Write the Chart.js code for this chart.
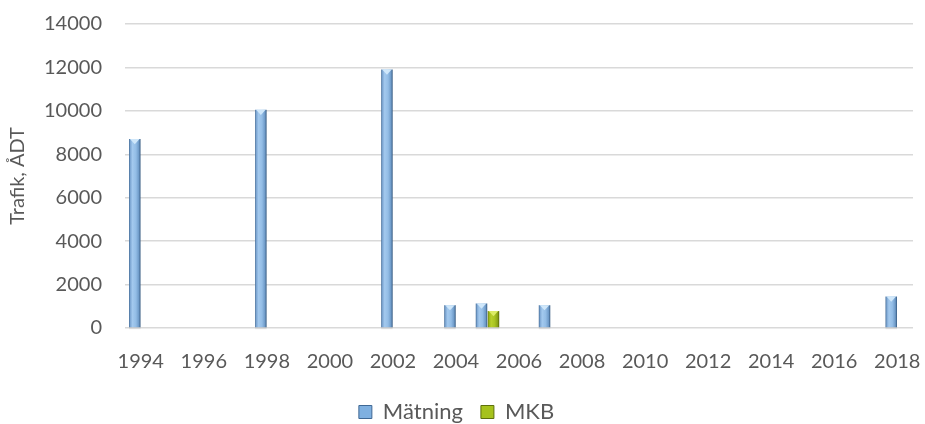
<!DOCTYPE html>
<html>
<head>
<meta charset="utf-8">
<script src="https://cdn.jsdelivr.net/npm/chart.js@4"></script>
<style>
  html, body { margin: 0; padding: 0; background: #ffffff; }
  #wrap { width: 925px; height: 424px; }
</style>
</head>
<body>
<div id="wrap"><canvas id="chart" width="925" height="424"></canvas></div>
<script>
// Årtal på x-axeln
const years = ['1994','1995','1996','1997','1998','1999','2000','2001','2002','2003',
               '2004','2005','2006','2007','2008','2009','2010','2011','2012','2013',
               '2014','2015','2016','2017','2018'];
// Årtal som visas som etiketter
const tickYears = ['1994','1996','1998','2000','2002','2004','2006','2008','2010',
                   '2012','2014','2016','2018'];
// Uppmätt trafik (ÅDT)
const matning = [8700, null, null, null, 10050, null, null, null, 11900, null,
                 1050, 1130, null, 1050, null, null, null, null, null, null,
                 null, null, null, null, 1450];
// Trafik enligt MKB (ÅDT)
const mkb = [null, null, null, null, null, null, null, null, null, null,
             null, 780, null, null, null, null, null, null, null, null,
             null, null, null, null, null];
// Y-axelns gränser
const yMin = 0, yMax = 14000, yStep = 2000;

const FONT = 'Lato, "Open Sans", sans-serif';
const TEXT = '#595959';

const blueStops = [[0, '#3f6894'], [0.12, '#7fa8d4'], [0.3, '#a3c9ee'], [0.6, '#93bde6'], [0.85, '#6f9bc9'], [1, '#34587f']];
const greenStops = [[0, '#6a7d0e'], [0.12, '#9cb51c'], [0.3, '#b8d02c'], [0.6, '#a9c422'], [0.85, '#8aa318'], [1, '#556509']];

// Horisontell gradient över varje stapel för en avfasad look
function barFill(stops, fallback) {
  return function (ctx) {
    if (ctx.type !== 'data') return fallback;
    const el = ctx.chart.getDatasetMeta(ctx.datasetIndex).data[ctx.dataIndex];
    if (!el || !el.width) return fallback;
    const l = el.x - el.width / 2, r = el.x + el.width / 2;
    const g = ctx.chart.ctx.createLinearGradient(l, 0, r, 0);
    stops.forEach(s => g.addColorStop(s[0], s[1]));
    return g;
  };
}

// Ljus fasad topp på staplarna
const bevelCaps = {
  id: 'bevelCaps',
  afterDatasetsDraw(chart) {
    const c = chart.ctx;
    c.save();
    chart.data.datasets.forEach((ds, di) => {
      const meta = chart.getDatasetMeta(di);
      meta.data.forEach((el, i) => {
        if (ds.data[i] == null) return;
        const w = el.width, l = el.x - w / 2, r = el.x + w / 2, t = el.y;
        const h = Math.min(w * 0.45, el.base - el.y);
        c.fillStyle = ds.capColor;
        c.beginPath();
        c.moveTo(l + 1, t);
        c.lineTo(r - 1, t);
        c.lineTo(el.x, t + h);
        c.closePath();
        c.fill();
        // svag skugga under stapeln
        c.fillStyle = 'rgba(0,0,0,0.08)';
        c.fillRect(l, el.base, w, 2);
      });
    });
    c.restore();
  }
};

// Fast höjd på teckenförklaringen
const legendHeight = {
  id: 'legendHeight',
  beforeUpdate(chart) {
    const lg = chart.legend;
    if (lg && !lg._fixed) {
      const fit = lg.fit;
      lg.fit = function () { fit.call(this); this.height = 41; };
      lg._fixed = true;
    }
  }
};

const chart = new Chart(document.getElementById('chart'), {
  type: 'bar',
  data: {
    labels: years,
    datasets: [
      {
        label: 'Mätning',
        data: matning,
        backgroundColor: barFill(blueStops, '#8fb8e0'),
        capColor: '#cfe7fa',
        legendColor: '#7fb0e0',
        legendBorder: '#3f6894',
        barPercentage: 0.96,
        categoryPercentage: 0.76
      },
      {
        label: 'MKB',
        data: mkb,
        backgroundColor: barFill(greenStops, '#a6c21c'),
        capColor: '#dcec66',
        legendColor: '#a6c21c',
        legendBorder: '#5e700c',
        barPercentage: 0.96,
        categoryPercentage: 0.76
      }
    ]
  },
  options: {
    responsive: false,
    animation: false,
    devicePixelRatio: 1,
    layout: { padding: { left: 0, right: 12, top: 24, bottom: 0 } },
    scales: {
      x: {
        grid: { display: false, drawTicks: false },
        border: { display: false },
        ticks: {
          autoSkip: false,
          maxRotation: 0,
          padding: 22,
          color: TEXT,
          font: { family: FONT, size: 20 },
          callback: function (value) {
            const lbl = this.getLabelForValue(value);
            return tickYears.includes(lbl) ? lbl : '';
          }
        },
        afterFit(scale) {
          scale.height = 55;
          scale.paddingLeft = 0;
          scale.paddingRight = 0;
        }
      },
      y: {
        min: yMin,
        max: yMax,
        grid: { color: '#d9d9d9', lineWidth: 1.5, drawTicks: false },
        border: { display: false },
        ticks: {
          stepSize: yStep,
          padding: 23,
          color: TEXT,
          font: { family: FONT, size: 20 },
          callback: (v) => String(v)
        },
        title: {
          display: true,
          text: 'Trafik, ÅDT',
          color: TEXT,
          font: { family: FONT, size: 20 },
          padding: { top: 6, bottom: 0 }
        },
        afterFit(scale) {
          scale.width = 125;
          scale.paddingTop = 0;
          scale.paddingBottom = 0;
        }
      }
    },
    plugins: {
      tooltip: { enabled: false },
      legend: {
        position: 'bottom',
        labels: {
          color: TEXT,
          font: { family: FONT, size: 22 },
          boxWidth: 13,
          boxHeight: 13,
          padding: 18,
          generateLabels(ch) {
            return ch.data.datasets.map((ds, i) => ({
              text: ds.label,
              fillStyle: ds.legendColor,
              strokeStyle: ds.legendBorder,
              lineWidth: 1,
              fontColor: TEXT,
              hidden: false,
              datasetIndex: i
            }));
          }
        }
      }
    }
  },
  plugins: [bevelCaps, legendHeight]
});
// andra passet så att gradienterna följer staplarnas slutliga lägen
chart.update('none');
</script>
</body>
</html>
